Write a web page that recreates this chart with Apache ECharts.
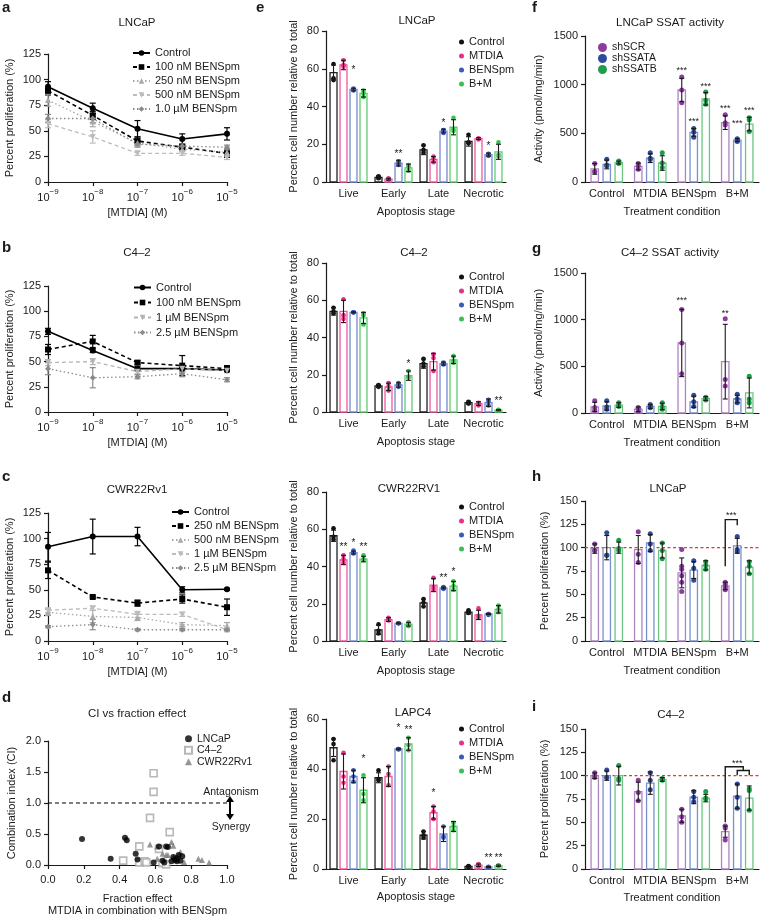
<!DOCTYPE html>
<html><head><meta charset="utf-8">
<script src="https://cdn.jsdelivr.net/npm/echarts@6/dist/echarts.min.js"></script>
<style>html,body{margin:0;padding:0;background:#fff}#c{width:760px;height:918px}</style>
</head><body><div id="c"></div>
<script>
// ================= DATA =================
const doseExp = ['\u22129','\u22128','\u22127','\u22126','\u22125'];
// Panel a: LNCaP
const aNames = ['Control','100 nM BENSpm','250 nM BENSpm','500 nM BENSpm','1.0 \u00b5M BENSpm'];
const aControl = [93,72,52,42,47],  aControlErr = [5,5,8,5,6];
const a100 = [89,65,40,34,28],      a100Err = [4,4,4,3,4];
const a250 = [80,59,38,32,29],      a250Err = [6,5,3,2,2];
const a500 = [57,44,28,28,24],      a500Err = [4,6,2,2,2];
const a1000 = [62,62,37,35,34],     a1000Err = [4,4,3,2,2];
// Panel b: C4-2
const bNames = ['Control','100 nM BENSpm','1 \u00b5M BENSpm','2.5 \u00b5M BENSpm'];
const bControl = [80,61,43,43,41.5], bControlErr = [3,2,2,3,2];
const b100 = [62,70,49,46,43],       b100Err = [5,6,2,10,3];
const b1000 = [49,50,40,43,41],      b1000Err = [3,3,2,3,2];
const b2500 = [43,34,35,38,32],      b2500Err = [6,10,2,3,2];
// Panel c: CWR22Rv1
const cNames = ['Control','250 nM BENSpm','500 nM BENSpm','1 \u00b5M BENSpm','2.5 \u00b5M BENSpm'];
const cControl = [92,102,102,50,50.5], cControlErr = [14,17,9,3,1];
const c250 = [69,43,37,41,33],         c250Err = [8,1,3,4,8];
const c500 = [28,24,23,16,15],         c500Err = [3,6,3,2,3];
const c1000 = [30,32,26,26,11],        c1000Err = [2,2,3,2,2];
const c2500 = [14,16,11,11,11],        c2500Err = [1,5,1,1,1];
// Panel d: CI vs fraction effect
const dLNCaP = [[0.19,0.42],[0.35,0.10],[0.43,0.44],[0.44,0.40],[0.49,0.18],[0.50,0.09],[0.59,0.04],[0.62,0.30],[0.64,0.07],[0.65,0.04],[0.66,0.30],[0.67,0.29],[0.70,0.13],[0.71,0.08],[0.72,0.11],[0.73,0.16],[0.72,0.06],[0.75,0.14],[0.74,0.07],[0.69,0.06]];
const dC42 = [[0.42,0.07],[0.51,0.30],[0.51,0.04],[0.54,0.06],[0.59,1.48],[0.59,1.18],[0.57,0.76],[0.68,0.53],[0.55,0.04],[0.62,0.26],[0.64,0.03],[0.66,0.01]];
const dCWR = [[0.57,0.33],[0.61,0.30],[0.64,0.18],[0.66,0.16],[0.69,0.37],[0.70,0.31],[0.74,0.21],[0.76,0.05],[0.84,0.10],[0.86,0.08],[0.90,0.04],[0.70,0.12],[0.67,0.16],[0.61,0.10]];
const dRef = [1.0];
// Panel e: apoptosis
const eCats = ['Live','Early','Late','Necrotic'];
const eNames = ['Control','MTDIA','BENSpm','B+M'];
const eLNCaPMean = [[58,2.5,17,21.5],[62,1.5,12,23],[49,10,27,14.5],[47,7.5,29,16]];
const eLNCaPErr  = [[4,0.8,2.5,2.5],[2.5,0.5,1.5,0.5],[0.7,1.5,1,0.8],[2,2,4,4]];
const eLNCaPDots = [[[62.5,55,54],[3,2.5,2],[19.5,17,15.5],[25,21,20.5]],[[64.5,62,61],[2,1.5,1.3],[13.5,12,10.5],[23,23,22.5]],[[49.5,49,48.5],[11,10,9],[27.5,27,26],[15,14,14]],[[48.5,47,45],[9,8,6],[34,28,27],[21,14.5,13.5]]];
const eLNCaPStars = [[0,2,59,'*'],[1,2,14.5,'**'],[2,2,31,'*'],[3,2,19,'*']];
const eC42Mean = [[54,14,26,5],[54,13.5,27,4.5],[53.5,14.5,26,5],[50.5,19.5,28,1]];
const eC42Err  = [[2,0.8,2.5,0.8],[6,2,4.5,1],[0.3,1.2,0.8,2],[3,2.5,2,0.3]];
const eC42Dots = [[[56,54,53],[14.5,14,13.5],[28.5,26,24.5],[5.5,5,4.5]],[[60.5,52,50],[15.5,13.5,11.5],[31,29,22],[5,4.5,3.5]],[[53.5,53.5,53.5],[15.5,14.5,13.5],[26.5,26,25.5],[6.5,5.5,3.5]],[[53,52,47],[22,19,18.5],[30,27.5,26.5],[1.2,1,0.8]]];
const eC42Stars = [[1,3,25.5,'*'],[3,3,6,'**']];
const eCWRMean = [[56.5,6,20.5,15.5],[43.5,11.5,30,14],[47.5,9.5,28.5,14.5],[44,9,29.5,17]];
const eCWRErr  = [[3,2.5,2,1],[2.5,1,3.5,2.5],[0.8,0.3,0.5,0.3],[1.5,1,2.5,2]];
const eCWRDots = [[[60.5,56,54.5],[9,5.5,4],[22.5,20.5,18.5],[16.5,15.5,15]],[[46,44,42],[12.5,11.5,11],[34,29,27.5],[17.5,13.5,12.5]],[[48.5,47.5,47],[9.5,9.5,9.5],[29,28.5,28],[14.5,14.5,14]],[[46,44,43.5],[10,9,8],[32,29.5,27.5],[19,17,15.5]]];
const eCWRStars = [[0,1,50.5,'**'],[0,2,52.5,'*'],[0,3,50.5,'**'],[2,2,33.5,'**'],[2,3,37,'*']];
const eLAPMean = [[48.5,36.5,13.5,1],[39,37,22.5,1.5],[37,48,14,0.8],[31.5,50,17,1.3]];
const eLAPErr  = [[3.5,2,1.5,0.3],[7,4,2.5,0.5],[2.5,0.3,3,0.2],[5,2.5,2,0.3]];
const eLAPDots = [[[52,50,43.5],[39.5,36,35.5],[15,13.5,12.5],[1.2,1,0.9]],[[46.5,37,34.5],[41,38,33.5],[25,23,20],[2,1.5,1]],[[39.5,37,35],[48,48,47.8],[17,13,12.5],[0.9,0.8,0.7]],[[37.5,30,27.5],[52.5,49.5,47.5],[18.5,17,15.5],[1.5,1.3,1.2]]];
const eLAPStars = [[0,3,44,'*'],[1,2,56.5,'*'],[1,3,55.5,'**'],[2,1,30.5,'*'],[3,2,4.5,'**'],[3,3,4.5,'**']];
// Panels f-i: shRNA
const tCats = ['Control','MTDIA','BENSpm','B+M'];
const shNames = ['shSCR','shSSATA','shSSATB'];
const fMean = [[135,160,945,610],[180,245,510,430],[200,195,855,595]];
const fErr  = [[55,35,120,70],[45,45,40,15],[15,75,65,70]];
const fDots = [[[190,110,105],[190,165,130],[1080,945,815],[690,610,585]],[[235,175,165],[300,245,230],[550,510,460],[445,430,415]],[[215,200,190],[300,195,150],[925,840,800],[660,640,520]]];
const fStars = [[2,0,1150,'***'],[2,1,620,'***'],[2,2,985,'***'],[3,0,757,'***'],[3,1,603,'***'],[3,2,730,'***']];
const gMean = [[65,40,750,550],[75,70,120,150],[85,70,155,215]];
const gErr  = [[50,25,360,400],[45,20,60,40],[25,35,20,160]];
const gDots = [[[130,60,30],[60,45,20],[1110,750,420],[1010,360,290]],[[130,65,40],[90,70,55],[190,120,70],[200,150,110]],[[110,80,70],[110,65,40],[170,155,140],[395,150,110]]];
const gStars = [[2,0,1207,'***'],[3,0,1064,'**']];
const hMean = [[99,98,73,59],[100,105,76,102],[100,97,81,79]];
const hErr  = [[5,15,16,4],[13,9,9,8],[6,8,5,7]];
const hDots = [[[104,97,97],[117,93,84],[98,80,77,70,63,53],[63,61,59,57,55]],[[116,92,92],[115,104,97],[86,78,65],[112,98,96]],[[108,99,97],[105,97,88],[85,81,77],[85,80,72]]];
const hBrackets = [[[3,0,80],[3,0,130],[3,1,130],[3,1,124]]];
const hStars = [[3,0.5,134,'***']];
const iMean = [[100,83,57,40],[100,92,77,78],[100,96,76,76]];
const iErr  = [[3,10,7,6],[5,12,7,13],[10,2,4,13]];
const iDots = [[[103,100,98],[95,82,73],[64,56,50],[46,44,31]],[[106,98,98],[103,95,85],[83,77,72],[91,77,65]],[[111,97,95],[97,96,95],[83,76,75],[86,84,63]]];
const iBrackets = [[[3,0,50],[3,0,109.5],[3,1.5,109.5],[3,1.5,105.5]],[[3,1,100.5],[3,1,105.5],[3,2,105.5],[3,2,100.5]]];
const iStars = [[3,1,113,'***']];
const controlLevel = [100];

// ================= BUILD =================
const FONT = '"Liberation Sans", Arial, Helvetica, sans-serif';
const TXT = '#1a1a1a';
const grid=[], xAxis=[], yAxis=[], series=[], legend=[], graphic=[];
const DOWN = 'path://M0,0L10,0L5,9Z';

function addGrid(l,t,w,h){ grid.push({left:l,top:t,width:w,height:h}); return grid.length-1; }
function yAx(gi,min,max,interval,name,nameGap,dec){
  const lab={fontSize:11,color:TXT,fontFamily:FONT,margin:7,formatter:v=>dec?v.toFixed(dec):String(v)};
  yAxis.push({gridIndex:gi,type:'value',min,max,interval,name,nameLocation:'middle',nameGap,
    nameTextStyle:{fontSize:11,color:TXT,fontFamily:FONT},
    axisLine:{show:true,lineStyle:{color:TXT,width:1.2}},
    axisTick:{show:true,length:4,lineStyle:{color:TXT,width:1.2}},
    axisLabel:lab, splitLine:{show:false}});
}
function xDose(gi){
  xAxis.push({gridIndex:gi,type:'category',data:doseExp,boundaryGap:false,name:'[MTDIA] (M)',nameLocation:'middle',nameGap:25,
    nameTextStyle:{fontSize:11,color:TXT,fontFamily:FONT},
    axisLine:{lineStyle:{color:TXT,width:1.2}},axisTick:{show:true,length:4,lineStyle:{color:TXT,width:1.2}},
    axisLabel:{margin:6,interval:0,formatter:v=>'{b|10}{s|'+v+'}',
      rich:{b:{fontSize:11,lineHeight:15,verticalAlign:'bottom',color:TXT,fontFamily:FONT},
            s:{fontSize:8,lineHeight:9,verticalAlign:'top',color:TXT,fontFamily:FONT}}},
    splitLine:{show:false}});
}
function xCat(gi,cats,name,nameGap){
  xAxis.push({gridIndex:gi,type:'category',data:cats,name,nameLocation:'middle',nameGap,
    nameTextStyle:{fontSize:11,color:TXT,fontFamily:FONT},
    axisLine:{lineStyle:{color:TXT,width:1.2}},axisTick:{show:false},
    axisLabel:{fontSize:11,color:TXT,fontFamily:FONT,margin:6,interval:0},splitLine:{show:false}});
}
function errSeries(gi,vals,errs,color){
  return {type:'custom',xAxisIndex:gi,yAxisIndex:gi,silent:true,animation:false,z:2,
    data:vals.map((v,i)=>[i,v-errs[i],v+errs[i]]),
    renderItem:(p,api)=>{
      const lo=api.coord([api.value(0),api.value(1)]), hi=api.coord([api.value(0),api.value(2)]), c=3;
      const st={stroke:color,lineWidth:1.2};
      return {type:'group',children:[
        {type:'line',shape:{x1:lo[0],y1:lo[1],x2:hi[0],y2:hi[1]},style:st},
        {type:'line',shape:{x1:lo[0]-c,y1:lo[1],x2:lo[0]+c,y2:lo[1]},style:st},
        {type:'line',shape:{x1:hi[0]-c,y1:hi[1],x2:hi[0]+c,y2:hi[1]},style:st}]};
    }};
}
function lineSer(gi,name,vals,errs,color,dash,symbol,size,width){
  series.push({type:'line',name,xAxisIndex:gi,yAxisIndex:gi,data:vals,symbol,symbolSize:size,animation:false,z:3,
    itemStyle:{color},lineStyle:{color,type:dash,width}});
  series.push(errSeries(gi,vals,errs,color));
}
function barPanel(gi,names,means,errs,dots,dotColors,barColors,spacing,width,r){
  const nS=names.length;
  names.forEach((nm,s)=>{
    series.push({type:'custom',name:nm,xAxisIndex:gi,yAxisIndex:gi,animation:false,z:3,itemStyle:{color:dotColors[s]},
      data:means[s].map((m,c)=>[c,m,errs[s][c]]),
      renderItem:(p,api)=>{
        const ci=api.value(0), m=api.value(1), e=api.value(2);
        const band=api.size([1,0])[0];
        const off=(s-(nS-1)/2)*spacing*band, w=width*band;
        const base=api.coord([ci,0]), top=api.coord([ci,m]);
        const cx=base[0]+off;
        const ch=[{type:'rect',shape:{x:cx-w/2,y:top[1],width:w,height:base[1]-top[1]},style:{fill:'#fff',stroke:barColors[s],lineWidth:1.3}}];
        dots[s][p.dataIndex].forEach(v=>{const pt=api.coord([ci,v]); ch.push({type:'circle',shape:{cx,cy:pt[1],r},style:{fill:dotColors[s]}});});
        const lo=api.coord([ci,Math.max(0,m-e)]), hi=api.coord([ci,m+e]); const c=2.5;
        const st={stroke:TXT,lineWidth:1.1};
        ch.push({type:'line',shape:{x1:cx,y1:lo[1],x2:cx,y2:hi[1]},style:st});
        ch.push({type:'line',shape:{x1:cx-c,y1:hi[1],x2:cx+c,y2:hi[1]},style:st});
        ch.push({type:'line',shape:{x1:cx-c,y1:lo[1],x2:cx+c,y2:lo[1]},style:st});
        return {type:'group',children:ch};
      }});
  });
}
function starSer(gi,stars,nS,spacing,fs){
  series.push({type:'custom',xAxisIndex:gi,yAxisIndex:gi,silent:true,animation:false,z:5,
    data:stars.map(s=>[s[0],s[2]]),
    renderItem:(p,api)=>{
      const st=stars[p.dataIndex]; const band=api.size([1,0])[0];
      const pt=api.coord([st[0],st[2]]); const off=(st[1]-(nS-1)/2)*spacing*band;
      return {type:'text',x:pt[0]+off,y:pt[1],style:{text:st[3],align:'center',verticalAlign:'middle',textAlign:'center',textVerticalAlign:'middle',fontSize:fs,fontFamily:FONT,fill:TXT}};
    }});
}
function bracketSer(gi,paths,nS,spacing){
  series.push({type:'custom',xAxisIndex:gi,yAxisIndex:gi,silent:true,animation:false,z:5,
    data:paths.map(pp=>[pp[0][0],pp[0][2]]),
    renderItem:(p,api)=>{
      const band=api.size([1,0])[0];
      const pts=paths[p.dataIndex].map(q=>{const c=api.coord([q[0],q[2]]); return [c[0]+(q[1]-(nS-1)/2)*spacing*band,c[1]];});
      return {type:'polyline',shape:{points:pts},style:{stroke:TXT,lineWidth:1.4,fill:null}};
    }});
}
// horizontal reference line spanning the grid, positioned through the y scale
function hLine(gi,levels,color,dash,width){
  series.push({type:'custom',xAxisIndex:gi,yAxisIndex:gi,silent:true,animation:false,z:1,
    data:levels.map(v=>[0,v]),
    renderItem:(p,api)=>{
      const cs=p.coordSys; const pt=api.coord([api.value(0),api.value(1)]);
      return {type:'line',shape:{x1:cs.x,y1:pt[1],x2:cs.x+cs.width,y2:pt[1]},style:{stroke:color,lineWidth:width,lineDash:dash}};
    }});
}
function txt(x,y,t,fs,bold,align){
  graphic.push({type:'text',x,y,silent:true,style:{text:t,fontSize:fs,fontWeight:bold?'bold':'normal',fontFamily:FONT,fill:TXT,
    align:align||'center',verticalAlign:'middle',textAlign:align||'center',textVerticalAlign:'middle'}});
}
function leg(names,left,top,o){
  legend.push(Object.assign({data:names,left,top,orient:'vertical',padding:0,itemGap:0,selectedMode:false,
    textStyle:{fontSize:11,color:TXT,fontFamily:FONT,lineHeight:14}},o));
}

// ---- a
let g = addGrid(48,54,179,128); xDose(g); yAx(g,0,125,25,'Percent proliferation (%)',33);
lineSer(g,aNames[0],aControl,aControlErr,'#000','solid','circle',6,1.6);
lineSer(g,aNames[1],a100,a100Err,'#000',[4,3],'rect',6,1.6);
lineSer(g,aNames[2],a250,a250Err,'#a8a8a8',[1.5,2.5],'triangle',6,1.3);
lineSer(g,aNames[3],a500,a500Err,'#bcbcbc',[4,3],DOWN,6,1.3);
lineSer(g,aNames[4],a1000,a1000Err,'#8a8a8a',[1.5,2.5],'diamond',6,1.3);
leg(aNames,132,46,{itemWidth:17,itemHeight:7});
// ---- b
const bN = bNames.map(n=>n+' ');
g = addGrid(48,286,179,126); xDose(g); yAx(g,0,125,25,'Percent proliferation (%)',33);
lineSer(g,bN[0],bControl,bControlErr,'#000','solid','circle',6,1.6);
lineSer(g,bN[1],b100,b100Err,'#000',[4,3],'rect',6,1.6);
lineSer(g,bN[2],b1000,b1000Err,'#b4b4b4',[4,3],DOWN,6,1.3);
lineSer(g,bN[3],b2500,b2500Err,'#8a8a8a',[1.5,2.5],'diamond',6,1.3);
leg(bN,133,280,{itemWidth:17,itemHeight:7,textStyle:{fontSize:11,color:TXT,fontFamily:FONT,lineHeight:15}});
// ---- c
const cN = cNames.map(n=>n+'  ');
g = addGrid(48,513,179,128); xDose(g); yAx(g,0,125,25,'Percent proliferation (%)',33);
lineSer(g,cN[0],cControl,cControlErr,'#000','solid','circle',6,1.6);
lineSer(g,cN[1],c250,c250Err,'#000',[4,3],'rect',6,1.6);
lineSer(g,cN[2],c500,c500Err,'#a8a8a8',[1.5,2.5],'triangle',6,1.3);
lineSer(g,cN[3],c1000,c1000Err,'#bcbcbc',[4,3],DOWN,6,1.3);
lineSer(g,cN[4],c2500,c2500Err,'#8a8a8a',[1.5,2.5],'diamond',6,1.3);
leg(cN,171,505,{itemWidth:17,itemHeight:7});
// ---- d
g = addGrid(48,741,179,127);
xAxis.push({gridIndex:g,type:'value',min:0,max:1,interval:0.2,name:'Fraction effect\nMTDIA in combination with BENSpm',nameLocation:'middle',nameGap:28,
  nameTextStyle:{fontSize:11,color:TXT,fontFamily:FONT,lineHeight:12},
  axisLine:{lineStyle:{color:TXT,width:1.2}},axisTick:{show:true,length:4,lineStyle:{color:TXT,width:1.2}},
  axisLabel:{fontSize:11,color:TXT,fontFamily:FONT,margin:9,formatter:v=>v.toFixed(1)},splitLine:{show:false}});
yAx(g,0,2,0.5,'Combination index (CI)',31,1);
hLine(g,dRef,'#000',[4,3],1.2);
series.push({type:'scatter',name:'LNCaP',xAxisIndex:g,yAxisIndex:g,data:dLNCaP,symbol:'circle',symbolSize:6,itemStyle:{color:'#000'},z:4,animation:false});
series.push({type:'scatter',name:'C4\u20132',xAxisIndex:g,yAxisIndex:g,data:dC42,symbol:'rect',symbolSize:7,itemStyle:{color:'#fff',borderColor:'#a6a6a6',borderWidth:1.6},z:3,animation:false});
series.push({type:'scatter',name:'CWR22Rv1',xAxisIndex:g,yAxisIndex:g,data:dCWR,symbol:'triangle',symbolSize:6,itemStyle:{color:'#7a7a7a'},z:3,animation:false});
leg(['LNCaP','C4\u20132','CWR22Rv1'],184,733,{itemWidth:7,itemHeight:7,textStyle:{fontSize:10.5,color:TXT,fontFamily:FONT,lineHeight:11.5}});
// ---- e panels
const eDot = ['#111111','#e6318a','#3c58b8','#3cbf52'];
const eBar = ['#222222','#ec5a9a','#7589d2','#5fcc72'];
const ES = 0.222, EW = 0.155;
const eDefs = [
  [31,151,80,eLNCaPMean,eLNCaPErr,eLNCaPDots,eLNCaPStars,35],
  [263,149,80,eC42Mean,eC42Err,eC42Dots,eC42Stars,270],
  [492,149,80,eCWRMean,eCWRErr,eCWRDots,eCWRStars,500],
  [719,150,60,eLAPMean,eLAPErr,eLAPDots,eLAPStars,722]];
eDefs.forEach((d,k)=>{
  g = addGrid(326,d[0],180,d[1]);
  xCat(g,eCats,'Apoptosis stage',k===3?22:24.5);
  yAx(g,0,d[2],20,'Percent cell number relative to total',27);
  const nm = eNames.map(n=>n+' '.repeat(3+k));
  barPanel(g,nm,d[3],d[4],d[5],eDot,eBar,ES,EW,2.3);
  starSer(g,d[6],4,ES,10);
  leg(nm,459,d[7],{icon:'circle',itemWidth:5,itemHeight:5});
});
// ---- f-i panels
const sDot = ['#8b3d9f','#2e4a9b','#1f9e4a'];
const sBar = ['#b083c3','#7a8fcf','#6cc784'];
const FS = 0.276, FW = 0.17;
g = addGrid(585,36,174,146); xCat(g,tCats,'Treatment condition',24); yAx(g,0,1500,500,'Activity (pmol/mg/min)',41);
barPanel(g,shNames,fMean,fErr,fDots,sDot,sBar,FS,FW,2.5); starSer(g,fStars,3,FS,9);
leg(shNames,598,42,{icon:'circle',itemWidth:9,itemHeight:9,textStyle:{fontSize:10.5,color:TXT,fontFamily:FONT,lineHeight:9.3}});
const gN = shNames.map(n=>n+' ');
g = addGrid(585,273,174,140); xCat(g,tCats,'Treatment condition',24); yAx(g,0,1500,500,'Activity (pmol/mg/min)',41);
barPanel(g,gN,gMean,gErr,gDots,sDot,sBar,FS,FW,2.5); starSer(g,gStars,3,FS,9);
const hN = shNames.map(n=>n+'  ');
g = addGrid(585,501,174,140); xCat(g,tCats,'Treatment condition',24.5); yAx(g,0,150,25,'Percent proliferation (%)',35);
hLine(g,controlLevel,'#e8372c',[3,2.5],1.1);
barPanel(g,hN,hMean,hErr,hDots,sDot,sBar,FS,FW,2.5); bracketSer(g,hBrackets,3,FS); starSer(g,hStars,3,FS,9);
const iN = shNames.map(n=>n+'   ');
g = addGrid(585,729,174,140); xCat(g,tCats,'Treatment condition',23.5); yAx(g,0,150,25,'Percent proliferation (%)',35);
hLine(g,controlLevel,'#e8372c',[3,2.5],1.1);
barPanel(g,iN,iMean,iErr,iDots,sDot,sBar,FS,FW,2.5); bracketSer(g,iBrackets,3,FS); starSer(g,iStars,3,FS,9);

// ---- titles and panel letters
txt(2,8,'a',15,true,'left');   txt(137,23,'LNCaP',11.5);
txt(2,248,'b',15,true,'left'); txt(137,253,'C4\u20132',11.5);
txt(2,477,'c',15,true,'left'); txt(137,490,'CWR22Rv1',11.5);
txt(2,698,'d',15,true,'left'); txt(137,714,'CI vs fraction effect',11.5);
txt(256,8,'e',15,true,'left'); txt(417,21,'LNCaP',11.5);
txt(414,253,'C4\u20132',11.5); txt(409,489,'CWR22RV1',11.5); txt(413,713,'LAPC4',11.5);
txt(532,8,'f',15,true,'left'); txt(670,23,'LNCaP SSAT activity',11.5);
txt(532,249,'g',15,true,'left'); txt(670,253,'C4\u20132 SSAT activity',11.5);
txt(532,477,'h',15,true,'left'); txt(668,489,'LNCaP',11.5);
txt(532,707,'i',15,true,'left'); txt(671,715,'C4\u20132',11.5);
// d annotations
txt(231,792,'Antagonism',10.5); txt(231,827,'Synergy',10.5);
graphic.push({type:'line',silent:true,shape:{x1:230,y1:800,x2:230,y2:816},style:{stroke:'#000',lineWidth:2}});
graphic.push({type:'polygon',silent:true,shape:{points:[[226,802],[234,802],[230,796]]},style:{fill:'#000'}});
graphic.push({type:'polygon',silent:true,shape:{points:[[226,814],[234,814],[230,820]]},style:{fill:'#000'}});

const chart = echarts.init(document.getElementById('c'),null,{renderer:'canvas'});
chart.setOption({animation:false,backgroundColor:'#fff',textStyle:{fontFamily:FONT},grid,xAxis,yAxis,series,legend,graphic});
</script></body></html>
